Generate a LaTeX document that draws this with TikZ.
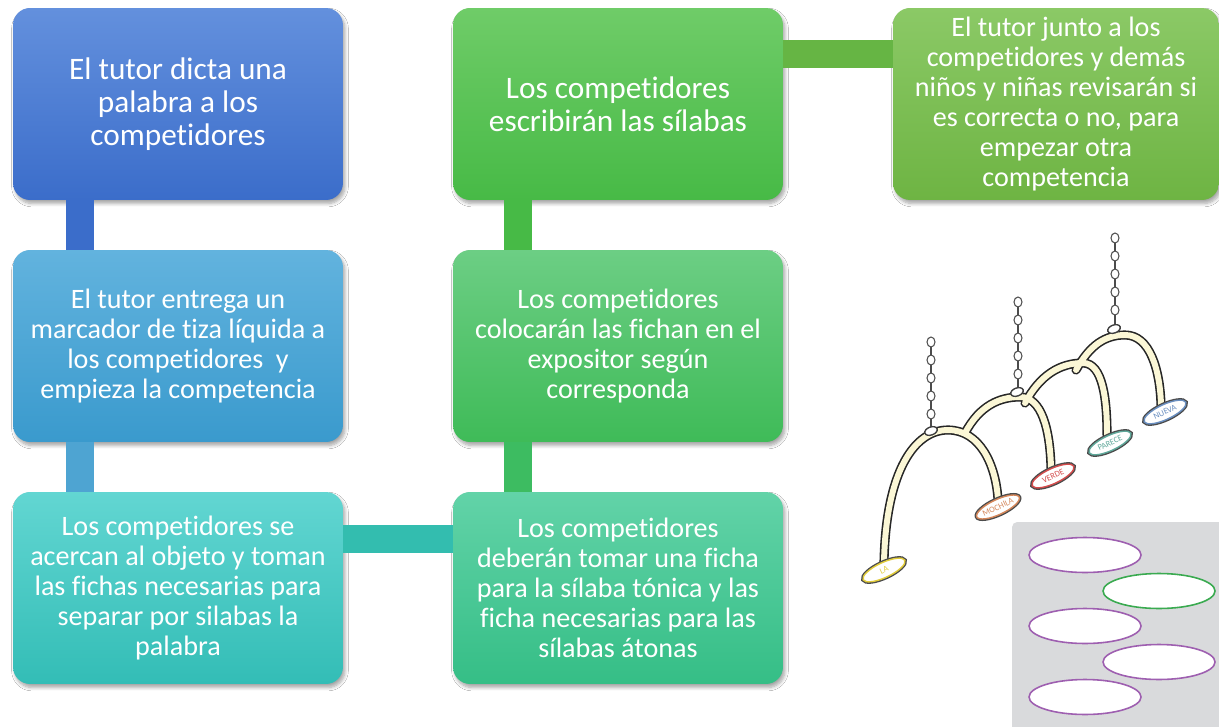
\documentclass[tikz,border=0pt]{standalone}
\usepackage{fontspec}
\setmainfont{Carlito}[RawFeature={-liga;-clig;-calt}]
\usetikzlibrary{shapes.geometric,shadows.blur}

\definecolor{azulA}{HTML}{6390DD}
\definecolor{azulB}{HTML}{3B6DCA}
\definecolor{celesteA}{HTML}{62B3DE}
\definecolor{celesteB}{HTML}{3A9ACD}
\definecolor{turquesaA}{HTML}{62D6D2}
\definecolor{turquesaB}{HTML}{33BDB6}
\definecolor{mentaA}{HTML}{62D3A8}
\definecolor{mentaB}{HTML}{35BE86}
\definecolor{verdeA}{HTML}{6CCE84}
\definecolor{verdeB}{HTML}{3FBB58}
\definecolor{pastoA}{HTML}{6FCC68}
\definecolor{pastoB}{HTML}{47BA46}
\definecolor{limaA}{HTML}{8BC966}
\definecolor{limaB}{HTML}{6EB443}
\definecolor{crema}{HTML}{FBF7D6}
\definecolor{fondo}{HTML}{D9DADC}
\definecolor{morado}{HTML}{9E5FB0}
\definecolor{verdeOvalo}{HTML}{3AAA50}
\definecolor{tagLa}{HTML}{E2CC3A}
\definecolor{tagMochila}{HTML}{D5875A}
\definecolor{tagVerde}{HTML}{D44C4C}
\definecolor{tagParece}{HTML}{5FA89A}
\definecolor{tagNueva}{HTML}{6A8FC0}

\tikzset{
	paso/.style 2 args={rectangle, rounded corners=0.34cm, minimum width=6.6cm,
		minimum height=3.84cm, align=center, text=white, inner sep=0pt,
		top color=#1, bottom color=#2,
		blur shadow={shadow xshift=0.04cm, shadow yshift=-0.07cm,
			shadow blur steps=6, shadow opacity=35}},
	grande/.style={font=\fontsize{17.8}{18.8}\selectfont},
	normal/.style={font=\fontsize{16}{17.1}\selectfont},
	enlace/.style={line width=0.56cm, draw=#1},
	etiqueta/.style={ellipse, fill=white, draw=#1, line width=0.8pt,
		preaction={draw=black!70, line width=2.3pt},
		minimum width=0.92cm, minimum height=0.3cm, inner sep=0pt,
		rotate=25, text=#1, font=\fontsize{4.8}{5}\selectfont},
	eslabon/.style={draw=black!70, fill=white, line width=0.6pt},
	argolla/.style={ellipse, draw=black!75, fill=white, line width=0.8pt,
		minimum width=0.26cm, minimum height=0.16cm, inner sep=0pt, rotate=20},
	ovalo/.style={ellipse, draw=#1, line width=0.9pt, fill=white,
		minimum width=2.24cm, minimum height=0.7cm}
}

\begin{document}
\begin{tikzpicture}[x=0.02cm, y=-0.02cm]
		% Page
		\fill[white] (0,0) rectangle (1219,726);
		\useasboundingbox (0,0) rectangle (1219,726);
		
		% Steps
		\node[paso={azulA}{azulB}, grande] (dicta) at (178,104)
			{El tutor dicta una\\palabra a los\\competidores};
		\node[paso={celesteA}{celesteB}, normal] (entrega) at (178,346)
			{El tutor entrega un\\marcador de tiza líquida a\\los competidores\ \ y\\empieza la competencia};
		\node[paso={turquesaA}{turquesaB}, normal] (acercan) at (178,588)
			{Los competidores se\\acercan al objeto y toman\\las fichas necesarias para\\separar por silabas la\\palabra};
		\node[paso={mentaA}{mentaB}, normal] (tomar) at (618,588)
			{Los competidores\\deberán tomar una ficha\\para la sílaba tónica y las\\ficha necesarias para las\\sílabas átonas};
		\node[paso={verdeA}{verdeB}, normal] (colocar) at (618,346)
			{Los competidores\\colocarán las fichan en el\\expositor según\\corresponda};
		\node[paso={pastoA}{pastoB}, grande] (escribir) at (618,104)
			{Los competidores\\escribirán las sílabas};
		\node[paso={limaA}{limaB}, normal, minimum width=6.52cm] (revisar) at (1056,104)
			{El tutor junto a los\\competidores y demás\\niños y niñas revisarán si\\es correcta o no, para\\empezar otra\\competencia};
		
		% Links between steps
		\draw[enlace=azulB] ([xshift=-1.96cm]dicta.south) -- ([xshift=-1.96cm]entrega.north);
		\draw[enlace=celesteB!90!white] ([xshift=-1.96cm]entrega.south) -- ([xshift=-1.96cm]acercan.north);
		\draw[enlace=turquesaB!85!mentaB] ([yshift=0.99cm]acercan.east) -- ([yshift=0.99cm]tomar.west);
		\draw[enlace=verdeB!80!mentaB] ([xshift=-2cm]tomar.north) -- ([xshift=-2cm]colocar.south);
		\draw[enlace=pastoB] ([xshift=-2cm]colocar.north) -- ([xshift=-2cm]escribir.south);
		\draw[enlace=limaB!80!pastoB] ([yshift=1cm]escribir.east) -- ([yshift=1cm]revisar.west);
		
		% Chains of the display stand
		\foreach \cx/\cy in {931/342, 1018/302, 1115/238} {
			\draw[black!70, line width=1.1pt] (\cx,\cy) -- (\cx,\cy+88);
			\foreach \k in {0,...,4}
				\draw[eslabon] (\cx,\cy+18*\k) ellipse (4 and 5);
		}
		
		% Arches
		\draw[line width=5.2pt, draw=black!85, line cap=round,
			postaction={draw=crema, line width=3.4pt, line cap=round}]
			(884,562) .. controls (886,470) and (915,430) .. (948,430)
				.. controls (980,430) and (996,465) .. (998,500)
			(965,433) .. controls (980,405) and (1000,397) .. (1020,397)
				.. controls (1042,397) and (1050,430) .. (1051,468)
			(1025,403) .. controls (1040,375) and (1060,363) .. (1083,363)
				.. controls (1103,363) and (1107,400) .. (1107,435)
			(1076,370) .. controls (1090,345) and (1105,335) .. (1125,335)
				.. controls (1150,335) and (1160,370) .. (1161,405);
		
		\node[argolla] (ring1) at (931,431) {};
		\node[argolla] (ring2) at (1017,392) {};
		\node[argolla] (ring3) at (1114,329) {};
		
		% Word tags
		\node[etiqueta=tagLa] (la) at (884,570) {LA};
		\node[etiqueta=tagMochila] (mochila) at (998,507) {MOCHILA};
		\node[etiqueta=tagVerde] (verde) at (1053,476) {VERDE};
		\node[etiqueta=tagParece] (parece) at (1110,443) {PARECE};
		\node[etiqueta=tagNueva] (nueva) at (1165,412) {NUEVA};
		
		% Board with blank cards
		\fill[fondo, rounded corners=3pt] (1012,522) rectangle (1225,732);
		\node[ovalo=morado] (card1) at (1085,555) {};
		\node[ovalo=verdeOvalo] (card2) at (1159,591) {};
		\node[ovalo=morado] (card3) at (1085,626) {};
		\node[ovalo=morado] (card4) at (1159,662) {};
		\node[ovalo=morado] (card5) at (1085,697) {};
	\end{tikzpicture}
\end{document}
